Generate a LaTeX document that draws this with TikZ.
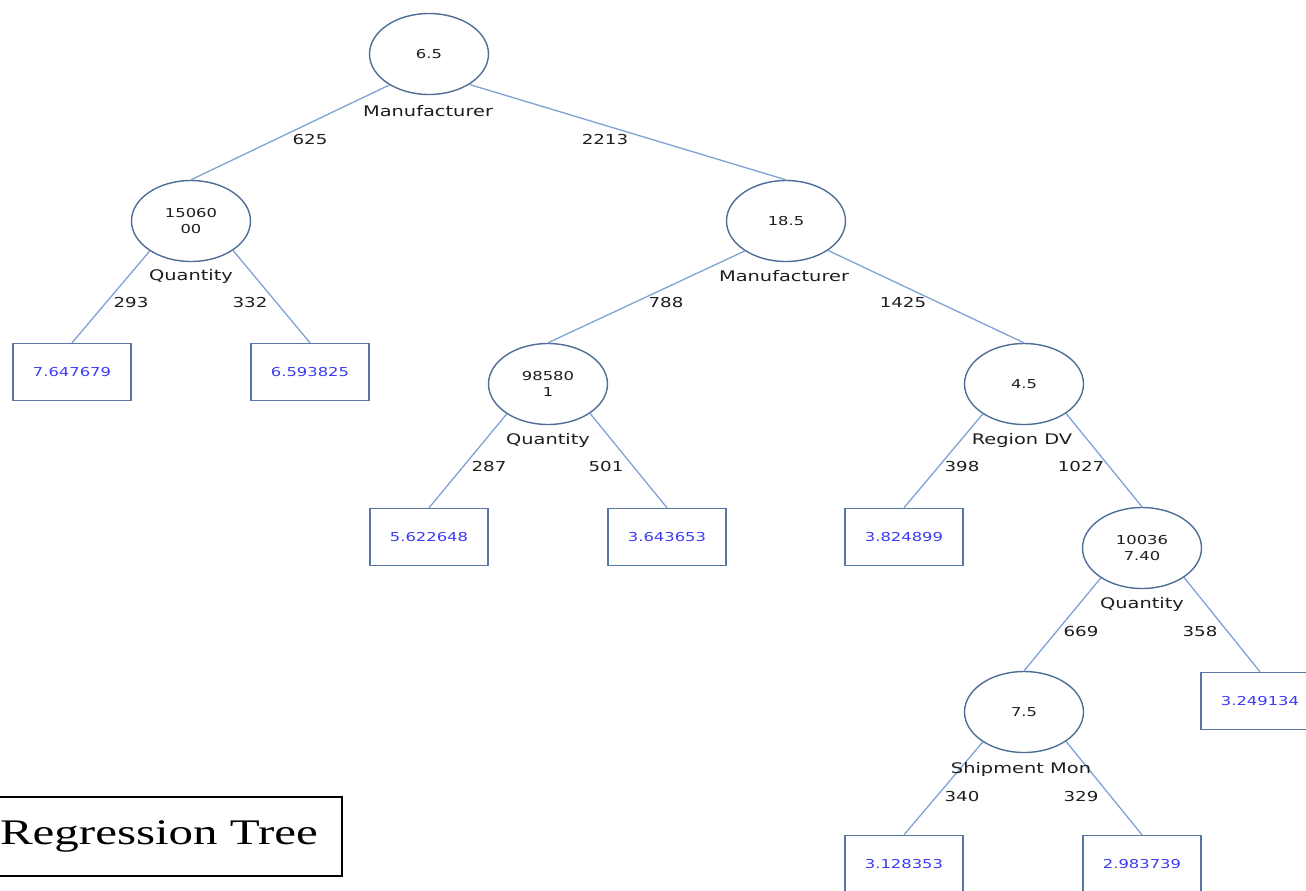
\documentclass[tikz,border=0pt]{standalone}
\usepackage{fontspec}
\usepackage{graphicx}
\setmainfont{Liberation Serif}
\newfontfamily\treefont{DejaVu Sans}
\usetikzlibrary{shapes.geometric}
\definecolor{nodeborder}{HTML}{4F6D96}
\definecolor{edgecol}{HTML}{7FA3D3}
\definecolor{leafborder}{HTML}{5878A3}
\definecolor{leaftext}{HTML}{3B3BF5}
\definecolor{labeltext}{HTML}{1E1E1E}
\newcommand{\wtxt}[1]{\scalebox{1.33}[1]{#1}}
\tikzset{
  splitnode/.style={ellipse, draw=nodeborder, line width=0.8pt, minimum width=2.38cm, minimum height=1.62cm, inner sep=0pt, align=center, font=\treefont\fontsize{7}{9.1}\selectfont, text=labeltext},
  leafnode/.style={rectangle, draw=leafborder, line width=0.8pt, minimum width=2.36cm, minimum height=1.14cm, inner sep=0pt, font=\treefont\fontsize{7}{9}\selectfont, text=leaftext},
  attrlabel/.style={inner sep=0pt, font=\treefont\fontsize{8.3}{10}\selectfont, text=labeltext},
  edgelabel/.style={inner sep=0pt, font=\treefont\fontsize{7.8}{10}\selectfont, text=labeltext},
  treeedge/.style={draw=edgecol, line width=0.75pt},
}
\begin{document}
\begin{tikzpicture}[x=0.02cm,y=-0.02cm]
\useasboundingbox (0,0) rectangle (1306,890);
\begin{scope}
\clip (0,0) rectangle (1306,890);
% split nodes
\node[splitnode] (r)  at (429,54)  {\wtxt{6.5}};
\node[splitnode] (n1) at (191,221) {\wtxt{15060}\\\wtxt{00}};
\node[splitnode] (n2) at (786,221) {\wtxt{18.5}};
\node[splitnode] (n3) at (548,384) {\wtxt{98580}\\\wtxt{1}};
\node[splitnode] (n4) at (1024,384) {\wtxt{4.5}};
\node[splitnode] (n5) at (1142,548) {\wtxt{10036}\\\wtxt{7.40}};
\node[splitnode] (n6) at (1024,712) {\wtxt{7.5}};
% leaves
\node[leafnode] (l1) at (72,372)  {\wtxt{7.647679}};
\node[leafnode] (l2) at (310,372) {\wtxt{6.593825}};
\node[leafnode] (l3) at (429,537) {\wtxt{5.622648}};
\node[leafnode] (l4) at (667,537) {\wtxt{3.643653}};
\node[leafnode] (l5) at (904,537) {\wtxt{3.824899}};
\node[leafnode] (l6) at (1260,701) {\wtxt{3.249134}};
\node[leafnode] (l7) at (904,864) {\wtxt{3.128353}};
\node[leafnode] (l8) at (1142,864) {\wtxt{2.983739}};
% edges
\draw[treeedge] (r.218) -- (n1.north);
\draw[treeedge] (r.323) -- (n2.north);
\draw[treeedge] (n1.216) -- (l1.north);
\draw[treeedge] (n1.325) -- (l2.north);
\draw[treeedge] (n2.216) -- (n3.north);
\draw[treeedge] (n2.325) -- (n4.north);
\draw[treeedge] (n3.216) -- (l3.north);
\draw[treeedge] (n3.325) -- (l4.north);
\draw[treeedge] (n4.216) -- (l5.north);
\draw[treeedge] (n4.325) -- (n5.north);
\draw[treeedge] (n5.216) -- (n6.north);
\draw[treeedge] (n5.325) -- (l6.north);
\draw[treeedge] (n6.216) -- (l7.north);
\draw[treeedge] (n6.325) -- (l8.north);
% attribute labels
\node[attrlabel] (a0) at (428,111) {\wtxt{Manufacturer}};
\node[attrlabel] (a1) at (191,276) {\wtxt{Quantity}};
\node[attrlabel] (a2) at (784,276) {\wtxt{Manufacturer}};
\node[attrlabel] (a3) at (548,440) {\wtxt{Quantity}};
\node[attrlabel] (a4) at (1022,440) {\wtxt{Region DV}};
\node[attrlabel] (a5) at (1142,604) {\wtxt{Quantity}};
\node[attrlabel] (a6) at (1021,769) {\wtxt{Shipment Mon}};
% edge labels
\node[edgelabel] (e1) at (310,140) {\wtxt{625}};
\node[edgelabel] (e2) at (605,140) {\wtxt{2213}};
\node[edgelabel] (e3) at (131,303) {\wtxt{293}};
\node[edgelabel] (e4) at (250,303) {\wtxt{332}};
\node[edgelabel] (e5) at (666,303) {\wtxt{788}};
\node[edgelabel] (e6) at (903,303) {\wtxt{1425}};
\node[edgelabel] (e7) at (489,467) {\wtxt{287}};
\node[edgelabel] (e8) at (606,467) {\wtxt{501}};
\node[edgelabel] (e9) at (962,467) {\wtxt{398}};
\node[edgelabel] (e10) at (1081,467) {\wtxt{1027}};
\node[edgelabel] (e11) at (1081,632) {\wtxt{669}};
\node[edgelabel] (e12) at (1200,632) {\wtxt{358}};
\node[edgelabel] (e13) at (962,796) {\wtxt{340}};
\node[edgelabel] (e14) at (1081,796) {\wtxt{329}};
% title box
\draw[black, line width=1.1pt] (-20,797) rectangle (342,876);
\node[inner sep=0pt, font=\fontsize{20.5}{22}\selectfont] (title) at (159,836) {\scalebox{1.36}[1]{Regression Tree}};
\end{scope}
\end{tikzpicture}
\end{document}
